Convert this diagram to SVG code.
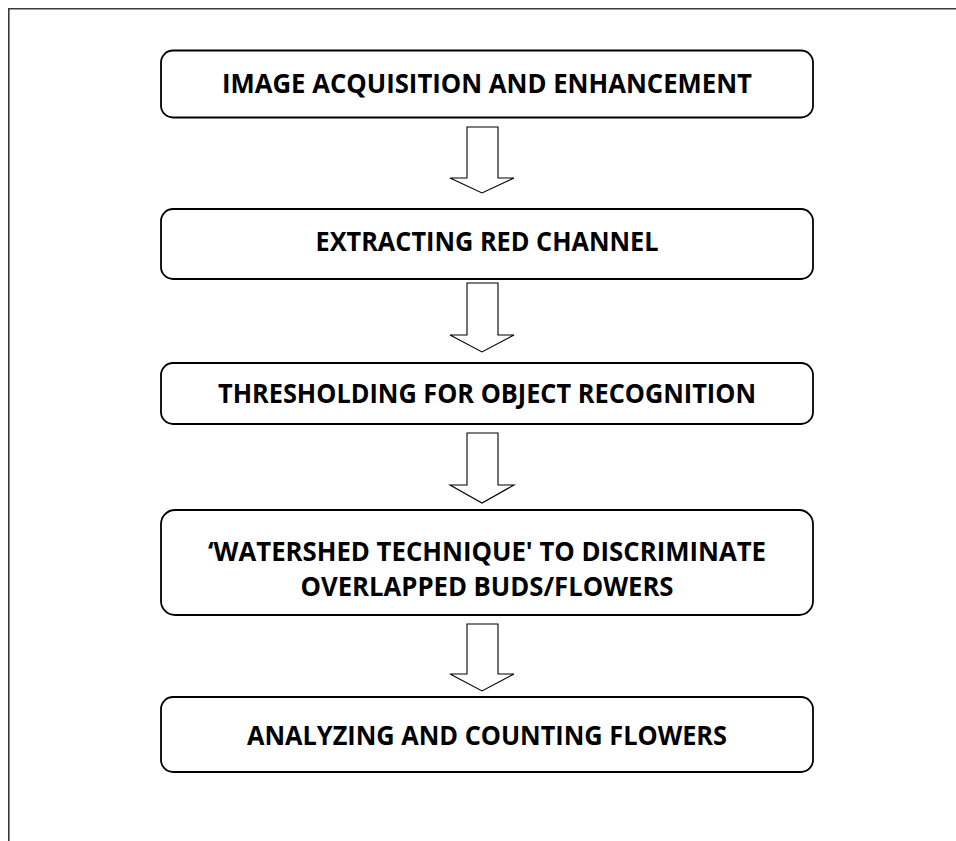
<svg xmlns="http://www.w3.org/2000/svg" width="956" height="841" viewBox="0 0 956 841">
<style>
.frame{fill:none;stroke:#3a3a3a;stroke-width:1.6}
.box{fill:#fff;stroke:#000;stroke-width:1.8}
.arrow{fill:#fff;stroke:#000;stroke-width:1.1;stroke-linejoin:miter}
.t{font-family:"Open Sans","Liberation Sans",sans-serif;font-weight:bold;font-size:27px;fill:#000;text-anchor:middle}
.t2{font-size:26px}
</style>
<rect width="956" height="841" fill="#fff"/>
<path class="frame" d="M8.8,841 V8.8 H956"/>
<g id="connectors">
<path class="arrow" d="M467,127 H498 V178 H514 L482,193 L450,178 H467 Z"/>
<path class="arrow" d="M467,283 H498 V335 H514 L482,352 L450,335 H467 Z"/>
<path class="arrow" d="M467,433 H498 V485 H514 L482,503 L450,485 H467 Z"/>
<path class="arrow" d="M467,624 H498 V674 H514 L482,691 L450,674 H467 Z"/>
</g>
<g id="n1">
<rect class="box" x="161" y="50.5" width="652" height="67" rx="12"/>
<text class="t" x="487" y="92.5" textLength="530" lengthAdjust="spacingAndGlyphs">IMAGE ACQUISITION AND ENHANCEMENT</text>
</g>
<g id="n2">
<rect class="box" x="161" y="209" width="652" height="70" rx="12"/>
<text class="t" x="487" y="251" textLength="343" lengthAdjust="spacingAndGlyphs">EXTRACTING RED CHANNEL</text>
</g>
<g id="n3">
<rect class="box" x="161" y="363" width="652" height="61" rx="12"/>
<text class="t" x="487" y="403.3" textLength="538" lengthAdjust="spacingAndGlyphs">THRESHOLDING FOR OBJECT RECOGNITION</text>
</g>
<g id="n4">
<rect class="box" x="161" y="510" width="652" height="105" rx="14"/>
<text class="t t2" x="487" y="560.5" textLength="558" lengthAdjust="spacingAndGlyphs">‘WATERSHED TECHNIQUE' TO DISCRIMINATE</text>
<text class="t t2" x="487" y="596" textLength="373" lengthAdjust="spacingAndGlyphs">OVERLAPPED BUDS/FLOWERS</text>
</g>
<g id="n5">
<rect class="box" x="161" y="697" width="652" height="75" rx="12"/>
<text class="t" x="487" y="745" textLength="480" lengthAdjust="spacingAndGlyphs">ANALYZING AND COUNTING FLOWERS</text>
</g>
</svg>
